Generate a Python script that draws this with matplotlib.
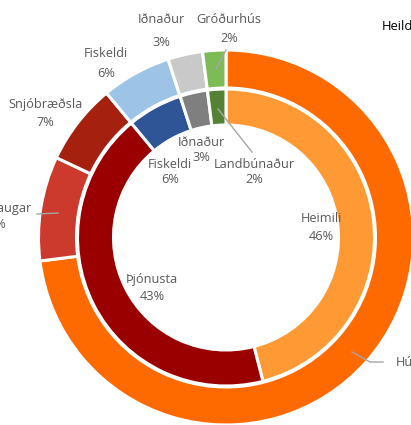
import matplotlib
matplotlib.use("Agg")
import matplotlib.pyplot as plt

# Data
outer_labels = ["Húshitun", "Sundlaugar", "Snjóbræðsla", "Fiskeldi", "Iðnaður", "Gróðurhús"]
outer_values = [73, 9, 7, 6, 3, 2]
outer_colors = ["#FF6A00", "#CC3A2E", "#A5200E", "#9DC3E6", "#C9C9C9", "#7CBB55"]

inner_labels = ["Heimili", "Þjónusta", "Fiskeldi", "Iðnaður", "Landbúnaður"]
inner_values = [46, 43, 6, 3, 2]
inner_colors = ["#FF9933", "#9A0000", "#2F5597", "#7F7F7F", "#548235"]

title = "Heildarnotkun"

W, H = 411, 425
fig = plt.figure(figsize=(W / 100, H / 100), dpi=100)
ax = fig.add_axes([0, 0, 1, 1])

cx, cy = 226, H - 237.5

ax.pie(outer_values, colors=outer_colors, radius=187.5, center=(cx, cy),
       startangle=90, counterclock=False,
       wedgeprops=dict(width=38, edgecolor="white", linewidth=2.2), frame=True)
ax.pie(inner_values, colors=inner_colors, radius=148.5, center=(cx, cy),
       startangle=90, counterclock=False,
       wedgeprops=dict(width=36, edgecolor="white", linewidth=2.2), frame=True)
ax.set_xlim(0, W)
ax.set_ylim(0, H)
ax.set_aspect("equal")
ax.axis("off")

fam = ["Open Sans", "DejaVu Sans"]
gc = "#595959"
fs = 9.2

def lab(name, val, x, y1, y2):
    ax.text(x, H - y1, name, ha="center", va="center", fontsize=fs, color=gc, family=fam)
    ax.text(x, H - y2, f"{val}%", ha="center", va="center", fontsize=fs, color=gc, family=fam)

# outer labels
lab(outer_labels[5], outer_values[5], 229, 19, 38)
lab(outer_labels[4], outer_values[4], 161, 19, 42)
lab(outer_labels[3], outer_values[3], 106, 53, 73)
lab(outer_labels[2], outer_values[2], 45, 104, 122)
lab(outer_labels[1], outer_values[1], -3, 208, 224)
lab(outer_labels[0], outer_values[0], 423, 362, 382)

# inner labels
lab(inner_labels[0], inner_values[0], 321, 218, 236)
lab(inner_labels[1], inner_values[1], 152, 280, 297)
lab(inner_labels[2], inner_values[2], 170, 164, 179)
lab(inner_labels[3], inner_values[3], 201, 142, 157)
lab(inner_labels[4], inner_values[4], 254, 164, 179)

lc = "#A6A6A6"
def leader(pts):
    xs = [p[0] for p in pts]
    ys = [H - p[1] for p in pts]
    ax.plot(xs, ys, color=lc, lw=1)

leader([(216, 69), (226, 50)])
leader([(218, 109), (252, 152)])
leader([(58, 213), (37, 214)])
leader([(352, 352), (370, 362), (383, 362)])

ax.text(382, H - 26, title, ha="left", va="center", fontsize=9.4, color="black", family=fam)

fig.savefig("out.png", dpi=100)
